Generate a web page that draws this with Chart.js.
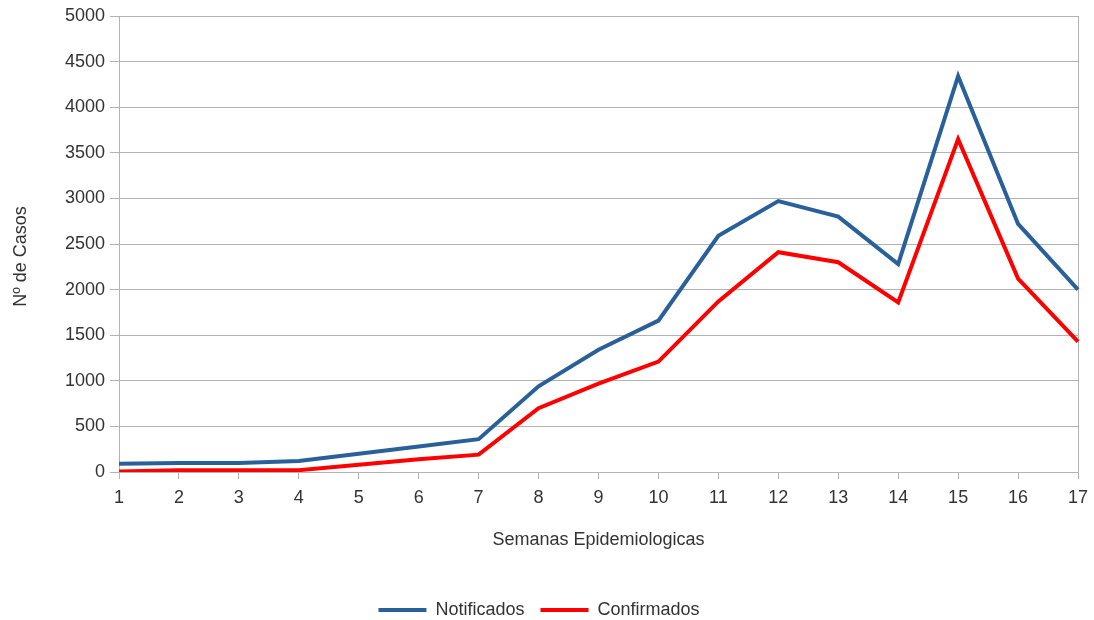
<!DOCTYPE html>
<html>
<head>
<meta charset="utf-8">
<script src="https://cdn.jsdelivr.net/npm/chart.js@4"></script>
<style>
html,body{margin:0;padding:0;background:#fff;overflow:hidden;}
#wrap{position:absolute;left:0;top:0;width:1094px;height:629px;}
</style>
</head>
<body>
<div id="wrap"><canvas id="c" width="1094" height="629"></canvas></div>
<script>
const semanas = ['1','2','3','4','5','6','7','8','9','10','11','12','13','14','15','16','17'];
const notificados = [90, 100, 100, 120, 200, 280, 360, 940, 1340, 1660, 2590, 2970, 2800, 2280, 4340, 2720, 2000];
const confirmados = [5, 20, 20, 20, 80, 140, 190, 700, 970, 1210, 1870, 2410, 2300, 1860, 3650, 2120, 1430];
const yTicks = [0, 500, 1000, 1500, 2000, 2500, 3000, 3500, 4000, 4500, 5000];

const GRID = '#b3b3b3';
const TXT = '#333333';
const FONT = 'Liberation Sans, Arial, sans-serif';

new Chart(document.getElementById('c'), {
  type: 'line',
  data: {
    labels: semanas,
    datasets: [
      {label: 'Notificados', data: notificados, borderColor: '#2a6099', backgroundColor: '#2a6099',
       borderWidth: 4, pointRadius: 0, pointStyle: 'line', tension: 0, borderJoinStyle: 'miter'},
      {label: 'Confirmados', data: confirmados, borderColor: '#ff0000', backgroundColor: '#ff0000',
       borderWidth: 4, pointRadius: 0, pointStyle: 'line', tension: 0, borderJoinStyle: 'miter'}
    ]
  },
  options: {
    responsive: false,
    animation: false,
    layout: {padding: {top: 16, right: 16, left: 0, bottom: 0}},
    plugins: {
      tooltip: {enabled: false},
      legend: {
        position: 'bottom',
        labels: {
          usePointStyle: true, pointStyle: 'line', pointStyleWidth: 48,
          boxWidth: 48, boxHeight: 4, padding: 16,
          color: TXT, font: {family: FONT, size: 18}
        }
      }
    },
    scales: {
      x: {
        type: 'category',
        offset: false,
        afterFit: s => { s.height = 113; s.paddingRight = 0; s.paddingLeft = 0; },
        border: {display: true, color: GRID, width: 1},
        grid: {
          display: true,
          drawOnChartArea: true,
          color: c => (c.index === semanas.length - 1 ? GRID : 'rgba(0,0,0,0)'),
          tickColor: GRID,
          tickLength: 7
        },
        ticks: {color: TXT, font: {family: FONT, size: 18}, padding: 8, maxRotation: 0, autoSkip: false},
        title: {display: true, text: 'Semanas Epidemiologicas', color: TXT,
                font: {family: FONT, size: 18}, padding: {top: 0, bottom: 34}}
      },
      y: {
        min: 0, max: 5000,
        afterFit: s => { s.width = 119; },
        afterBuildTicks: s => { s.ticks = yTicks.map(v => ({value: v})); },
        border: {display: true, color: GRID, width: 1},
        grid: {color: GRID, tickColor: GRID, tickLength: 9},
        ticks: {color: TXT, font: {family: FONT, size: 18}, padding: 5, callback: v => String(v)},
        title: {display: true, text: 'Nº de Casos     ', color: TXT,
                font: {family: FONT, size: 18}, padding: {top: 10, bottom: 0}}
      }
    }
  }
});
</script>
</body>
</html>
